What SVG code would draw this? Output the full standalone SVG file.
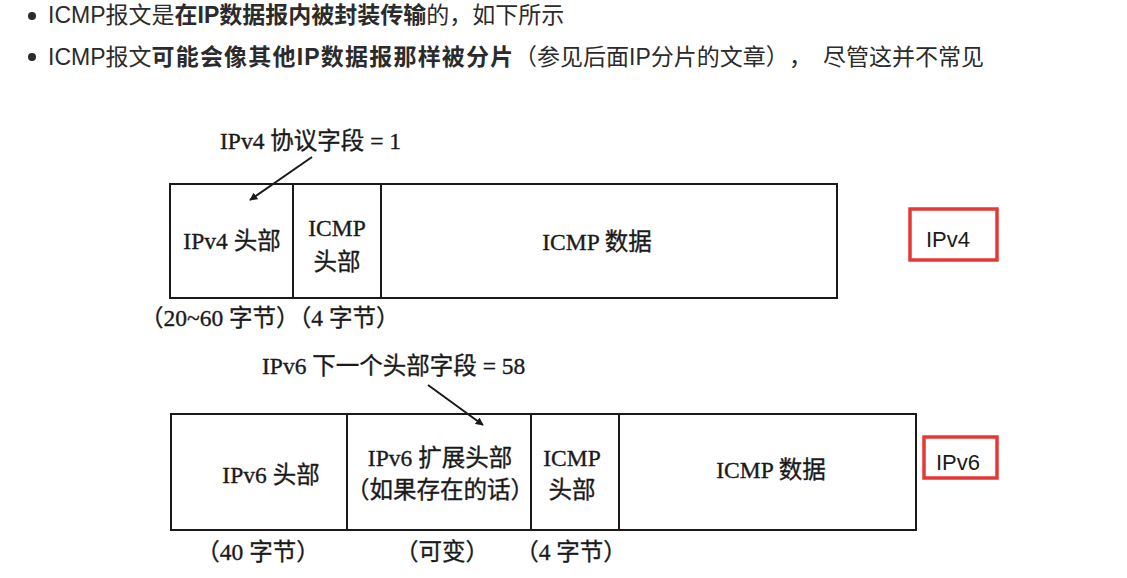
<svg xmlns="http://www.w3.org/2000/svg" width="1127" height="578" viewBox="0 0 1127 578">
<style>
.hd{font-family:"Liberation Sans","Noto Sans CJK SC",sans-serif;font-size:23px;fill:#2b2b2b}
.b{font-weight:bold}
.t{font-family:"Liberation Serif","Noto Sans CJK SC",serif;font-size:23.5px;fill:#1a1a1a;stroke:#1a1a1a;stroke-width:0.35}
.box{fill:#fff;stroke:#1a1a1a;stroke-width:2}
.div{stroke:#1a1a1a;stroke-width:2}
.red{fill:none;stroke:#e53935;stroke-width:3.5}
.lbl{font-family:"Liberation Sans",sans-serif;font-size:22px;fill:#1a1a1a}
.arr{stroke:#1a1a1a;stroke-width:2;fill:none}
</style>
<defs>
<marker id="ah" viewBox="0 0 10 10" refX="9" refY="5" markerWidth="8" markerHeight="8" orient="auto" markerUnits="userSpaceOnUse">
<path d="M0,0 L10,5 L0,10 z" fill="#1a1a1a"/>
</marker>
</defs>
<rect width="1127" height="578" fill="#fff"/>
<g id="header">
<circle cx="32" cy="16" r="4" fill="#2b2b2b"/>
<text class="hd" x="48" y="23">ICMP报文是<tspan class="b">在IP数据报内被封装传输</tspan>的，如下所示</text>
<circle cx="32" cy="57" r="4" fill="#2b2b2b"/>
<text class="hd" x="48" y="65">ICMP报文<tspan class="b" letter-spacing="1.2">可能会像其他IP数据报那样被分片</tspan><tspan x="514">（参见后面IP分片的文章）</tspan><tspan x="789">，</tspan><tspan x="823">尽管这并不常见</tspan></text>
</g>
<g id="ipv4-packet">
<rect class="box" x="170" y="184" width="667" height="114"/>
<line class="div" x1="293" y1="184" x2="293" y2="298"/>
<line class="div" x1="381" y1="184" x2="381" y2="298"/>
<text class="t" x="232" y="249" text-anchor="middle">IPv4 头部</text>
<text class="t" x="337" y="236" text-anchor="middle">ICMP</text>
<text class="t" x="337" y="270" text-anchor="middle">头部</text>
<text class="t" x="597" y="250" text-anchor="middle">ICMP 数据</text>
</g>
<g id="ipv4-notes">
<text class="t" x="220" y="149">IPv4 协议字段 = 1</text>
<text class="t" x="140" y="326">（20~60 字节）（4 字节）</text>
</g>
<g id="ipv4-tag">
<rect class="red" x="910" y="209" width="87" height="51"/>
<text class="lbl" x="948" y="247" text-anchor="middle">IPv4</text>
</g>
<g id="ipv6-packet">
<rect class="box" x="171" y="414" width="745" height="116"/>
<line class="div" x1="347" y1="414" x2="347" y2="530"/>
<line class="div" x1="531" y1="414" x2="531" y2="530"/>
<line class="div" x1="619" y1="414" x2="619" y2="530"/>
<text class="t" x="271" y="483" text-anchor="middle">IPv6 头部</text>
<text class="t" x="440" y="466" text-anchor="middle">IPv6 扩展头部</text>
<text class="t" x="440" y="498" text-anchor="middle">（如果存在的话）</text>
<text class="t" x="572" y="466" text-anchor="middle">ICMP</text>
<text class="t" x="572" y="498" text-anchor="middle">头部</text>
<text class="t" x="771" y="478" text-anchor="middle">ICMP 数据</text>
</g>
<g id="ipv6-notes">
<text class="t" x="262" y="374">IPv6 下一个头部字段 = 58</text>
<text class="t" x="258" y="560" text-anchor="middle">（40 字节）</text>
<text class="t" x="442" y="560" text-anchor="middle">（可变）</text>
<text class="t" x="571" y="560" text-anchor="middle">（4 字节）</text>
</g>
<g id="ipv6-tag">
<rect class="red" x="924" y="437" width="73" height="41"/>
<text class="lbl" x="958" y="470" text-anchor="middle">IPv6</text>
</g>
<g id="connectors">
<line class="arr" x1="312" y1="157" x2="250" y2="200" marker-end="url(#ah)"/>
<line class="arr" x1="428" y1="385" x2="483" y2="425" marker-end="url(#ah)"/>
</g>
</svg>
